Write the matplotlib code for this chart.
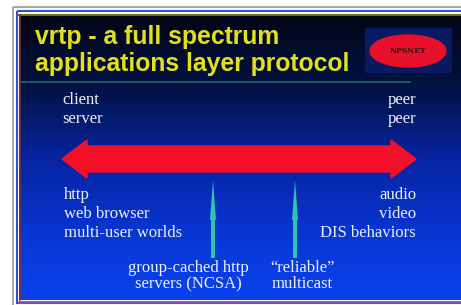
import numpy as np
import matplotlib.pyplot as plt
from matplotlib.patches import Ellipse, Rectangle, FancyArrow, Polygon
from matplotlib.colors import LinearSegmentedColormap

# slide text
title_lines = ["vrtp - a full spectrum", "applications layer protocol"]
left_top = ["client", "server"]
right_top = ["peer", "peer"]
left_bottom = ["http", "web browser", "multi-user worlds"]
right_bottom = ["audio", "video", "DIS behaviors"]
middle_labels = ["group-cached http\nservers (NCSA)", "\u201creliable\u201d\nmulticast"]
middle_x = [213, 295]
label_x = [188, 302]
logo_text = "NPSNET"

W, H = 461, 305
fig = plt.figure(figsize=(W / 100, H / 100), dpi=100)
ax = fig.add_axes([0, 0, 1, 1])
ax.set_xlim(0, W)
ax.set_ylim(H, 0)
ax.axis('off')

# frame lines
ax.add_patch(Rectangle((13, 7), 460, 300, fill=False, ec='#a8a8a8', lw=1.5))
ax.add_patch(Rectangle((17, 11), 460, 292, fill=False, ec='#3050d0', lw=1.5))

# background gradient
cmap = LinearSegmentedColormap.from_list('bg', [
    (0.0, '#020616'), (0.25, '#021242'), (0.5, '#0624a0'),
    (0.8, '#0838d8'), (1.0, '#0b42ee')])
grad = np.linspace(0, 1, 256).reshape(-1, 1)
ax.imshow(grad, cmap=cmap, extent=[19, W, 300, 15], aspect='auto', zorder=0)
ax.plot([19, W], [15, 15], color='#707010', lw=1.5)
ax.plot([20, 20], [15, 300], color='#803040', lw=1.2)
ax.plot([19, W], [301.5, 301.5], color='#8050c0', lw=2)

# title
for i, t in enumerate(title_lines):
    ax.text(35, 37 + i * 27, t, color='#e2e01e', fontsize=17.8, fontweight='bold',
            family='Liberation Sans', va='center', ha='left')
ax.plot([22, 410], [82, 82], color='#1a6a7a', lw=1.2)

# logo
ax.add_patch(Rectangle((365, 28), 86, 44, color='#0a1a60', zorder=2))
ax.add_patch(Ellipse((408, 51), 76, 32, color='#e8102a', zorder=3))
ax.text(408, 51, logo_text, fontsize=5.5, fontweight='bold', color='#301010',
        ha='center', va='center', zorder=4, family='DejaVu Serif')

txt = dict(color='#eef0f8', fontsize=12, family='Liberation Serif', va='center')

# top labels
for i, t in enumerate(left_top):
    ax.text(62, 100 + i * 19, t, ha='left', **txt)
for i, t in enumerate(right_top):
    ax.text(416, 100 + i * 19, t, ha='right', **txt)

# red double arrow
y0, half, headh, headl = 159, 13, 19, 25
x0, x1 = 62, 416
pts = [(x0, y0), (x0 + headl, y0 - headh), (x0 + headl, y0 - half),
       (x1 - headl, y0 - half), (x1 - headl, y0 - headh), (x1, y0),
       (x1 - headl, y0 + headh), (x1 - headl, y0 + half), (x0 + headl, y0 + half),
       (x0 + headl, y0 + headh)]
ax.add_patch(Polygon(pts, closed=True, color='#f5102a', zorder=3))

# bottom side labels
for i, t in enumerate(left_bottom):
    ax.text(64, 195 + i * 19, t, ha='left', **txt)
for i, t in enumerate(right_bottom):
    ax.text(416, 195 + i * 19, t, ha='right', **txt)

# teal arrows
for x in middle_x:
    ax.add_patch(FancyArrow(x, 258, 0, -78, width=4, head_width=6, head_length=40,
                            length_includes_head=True, color='#2ec4b0', lw=0, zorder=3))

for x, t in zip(label_x, middle_labels):
    ax.text(x, 276, t, ha='center', linespacing=1.0, **txt)

fig.savefig('out.png', dpi=100)
